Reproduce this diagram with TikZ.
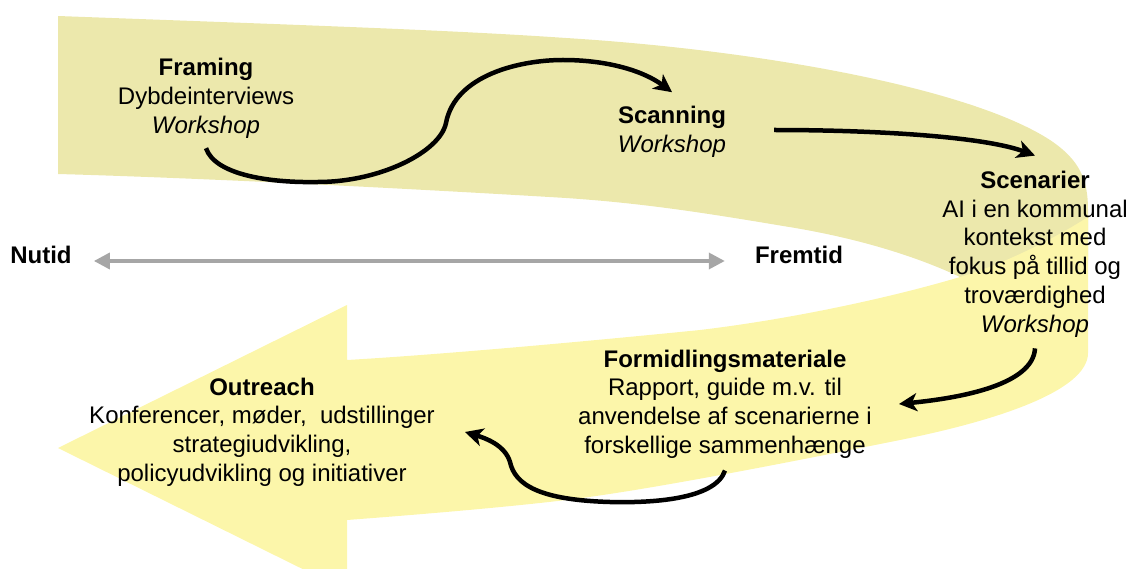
\documentclass[tikz,border=0pt]{standalone}
\usepackage{fontspec}
\setmainfont{Liberation Sans}
\usepackage{tikz}
\usetikzlibrary{arrows.meta}
\definecolor{bandback}{RGB}{236,232,172}
\definecolor{bandfront}{RGB}{252,246,170}
\definecolor{timegray}{RGB}{166,166,166}
\tikzstyle{phase} = [align=center, inner sep=0pt, font={\fontsize{24}{28.8}\selectfont}]
\tikzstyle{timepoint} = [inner sep=0pt, font={\fontsize{24}{28.8}\selectfont\bfseries}]
\tikzstyle{arrow} = [line width=4.5pt,-{Stealth[length=18pt,width=18pt,inset=5pt]}]
\tikzstyle{timeline} = [line width=3.5pt,draw=timegray,{Triangle[length=16pt,width=16pt]}-{Triangle[length=16pt,width=16pt]}]

\begin{document}
\begin{tikzpicture}[x=1pt,y=-1pt]
	\useasboundingbox (0,0) rectangle (1131,569);
	\fill [bandback] (58,16) .. controls (300,25) and (450,30) .. (566,38) .. controls (760,50) and (970,88) .. (1050,140) .. controls (1080,160) and (1088,180) .. (1088,210) -- (1088,260) -- (1000,290) -- (960,277) .. controls (920,258) and (860,238) .. (783,226) .. controls (700,212) and (640,203) .. (566,198) .. controls (400,188) and (200,178) .. (58,174) -- cycle;
	\fill [bandfront] (347,360) .. controls (450,354) and (600,340) .. (700,330) .. controls (800,318) and (900,295) .. (960,277) .. controls (1010,262) and (1060,235) .. (1088,217) -- (1088,353) .. controls (1088,390) and (1000,420) .. (900,440) .. controls (800,460) and (650,490) .. (566,500) .. controls (500,508) and (400,516) .. (347,520) -- (347,591) -- (58,448) -- (347,305) -- cycle;

	\node (framing) [phase] at (206,98) {\textbf{Framing}\\Dybdeinterviews\\\textit{Workshop}};
	\node (scanning) [phase] at (672,132) {\textbf{Scanning}\\\textit{Workshop}};
	\node (scenarier) [phase] at (1035,254) {\textbf{Scenarier}\\AI i en kommunal\\kontekst med\\fokus på tillid og\\troværdighed\\\textit{Workshop}};
	\node (formidling) [phase] at (725,404) {\textbf{Formidlingsmateriale}\\Rapport, guide m.v. til\\anvendelse af scenarierne i\\forskellige sammenhænge};
	\node (outreach) [phase] at (262,432) {\textbf{Outreach}\\Konferencer, møder,~ udstillinger\\strategiudvikling,\\policyudvikling og initiativer};
	\node (nutid) [timepoint] at (41,255) {Nutid};
	\node (fremtid) [timepoint] at (799,255) {Fremtid};

	\draw [timeline] ([shift={(22pt,-6pt)}]nutid.east) -- ([shift={(-30pt,-6pt)}]fremtid.west);
	\draw [arrow] ([yshift=-10pt]framing.south) .. controls (215,175) and (270,183) .. (318,182) .. controls (380,182) and (440,152) .. (446,123) .. controls (455,75) and (520,60) .. (563,60) .. controls (610,60) and (645,72) .. ([yshift=14pt]scanning.north);
	\draw [arrow] ([xshift=48pt,yshift=2pt]scanning.east) .. controls (880,130) and (985,137) .. ([yshift=15pt]scenarier.north);
	\draw [arrow] ([yshift=-11pt]scenarier.south) .. controls (1033,385) and (960,398) .. ([xshift=27pt]formidling.east);
	\draw [arrow] ([yshift=-12pt]formidling.south) .. controls (715,500) and (650,503) .. (610,502) .. controls (540,500) and (515,485) .. (510,462) .. controls (505,445) and (485,438) .. ([xshift=30pt]outreach.east);
\end{tikzpicture}
\end{document}
